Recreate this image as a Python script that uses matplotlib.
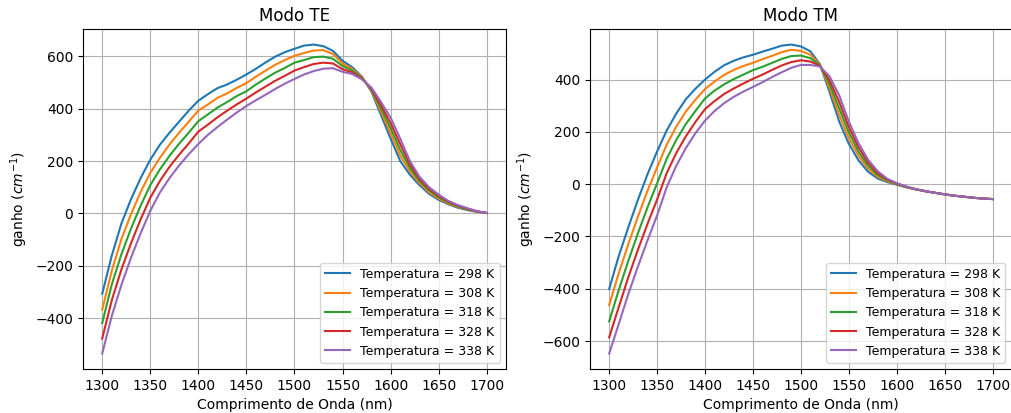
import numpy as np
import matplotlib.pyplot as plt

# comprimento de onda (nm), passo de 10 nm
lam = np.arange(1300, 1701, 10)

temps = [298, 308, 318, 328, 338]

# ganho modo TE (cm^-1)
te_298 = [-306, -160, -38, 55, 135, 205, 262, 308, 350, 392, 430, 455, 478, 492, 510, 530, 552, 576, 598, 615, 628,
          640, 644, 638, 620, 582, 558, 522, 465, 375, 285, 200, 148, 108, 75, 52, 35, 22, 13, 6, 2]
te_308 = [-367, -218, -97, -2, 82, 155, 212, 263, 308, 350, 392, 416, 441, 458, 479, 497, 522, 545, 567, 585, 601,
          612, 621, 623, 608, 572, 551, 520, 469, 388, 305, 221, 161, 116, 81, 57, 38, 25, 15, 7, 2]
te_318 = [-418, -270, -155, -57, 30, 108, 168, 220, 266, 308, 352, 378, 404, 425, 448, 466, 492, 515, 537, 555, 575,
          585, 596, 598, 590, 562, 545, 517, 473, 400, 325, 242, 174, 124, 88, 62, 42, 27, 16, 8, 2]
te_328 = [-477, -330, -213, -113, -22, 60, 124, 178, 224, 267, 312, 339, 367, 392, 416, 438, 462, 484, 506, 525, 545,
          558, 570, 575, 572, 550, 538, 515, 476, 412, 345, 264, 187, 132, 94, 67, 45, 30, 18, 8, 2]
te_338 = [-534, -390, -272, -168, -75, 10, 80, 135, 183, 226, 265, 300, 330, 358, 385, 410, 432, 453, 475, 495, 513,
          530, 543, 552, 554, 540, 532, 512, 480, 425, 365, 285, 200, 140, 100, 72, 48, 32, 20, 9, 2]

# ganho modo TM (cm^-1)
tm_298 = [-401, -275, -165, -60, 38, 125, 205, 270, 325, 365, 400, 430, 455, 472, 485, 495, 507, 518, 530, 534, 527,
          508, 458, 352, 240, 155, 92, 48, 22, 8, -2, -12, -20, -27, -33, -39, -44, -48, -52, -55, -57]
tm_308 = [-463, -340, -229, -124, -25, 64, 151, 220, 278, 323, 364, 393, 418, 437, 452, 464, 478, 491, 505, 514, 510,
          495, 456, 367, 265, 176, 109, 60, 29, 11, 0, -11, -20, -27, -33, -39, -44, -48, -52, -55, -57]
tm_318 = [-525, -405, -293, -188, -89, 3, 97, 169, 230, 280, 328, 358, 382, 402, 419, 436, 449, 464, 479, 490, 492,
          482, 454, 382, 290, 198, 125, 71, 36, 15, 1, -10, -20, -27, -33, -39, -44, -48, -52, -55, -57]
tm_328 = [-586, -470, -356, -251, -152, -59, 42, 119, 183, 238, 287, 318, 345, 366, 385, 403, 419, 437, 454, 467, 474,
          469, 452, 397, 315, 219, 142, 83, 43, 18, 3, -10, -19, -27, -33, -39, -44, -48, -52, -55, -57]
tm_338 = [-648, -535, -420, -315, -215, -120, -12, 70, 138, 195, 243, 280, 310, 334, 354, 372, 390, 410, 428, 445, 456,
          456, 450, 412, 340, 240, 158, 94, 50, 21, 4, -9, -19, -27, -33, -39, -44, -48, -52, -55, -57]

te = [te_298, te_308, te_318, te_328, te_338]
tm = [tm_298, tm_308, tm_318, tm_328, tm_338]

fig = plt.figure(figsize=(10.12, 4.13), dpi=100)
ax1 = fig.add_axes([0.082, 0.1065, 0.418, 0.823])
ax2 = fig.add_axes([0.583, 0.1065, 0.4167, 0.823])

for ax, dados, titulo in [(ax1, te, 'Modo TE'), (ax2, tm, 'Modo TM')]:
    for T, g in zip(temps, dados):
        ax.plot(lam, g, label='Temperatura = %d K' % T)
    ax.set_title(titulo, fontsize=12)
    ax.set_xlabel('Comprimento de Onda (nm)')
    ax.set_ylabel('ganho ($cm^{-1}$)')
    ax.set_xticks(np.arange(1300, 1701, 50))
    ax.grid(True)
    ax.legend(loc='lower right', fontsize=9)

plt.savefig('out.png', dpi=100)
